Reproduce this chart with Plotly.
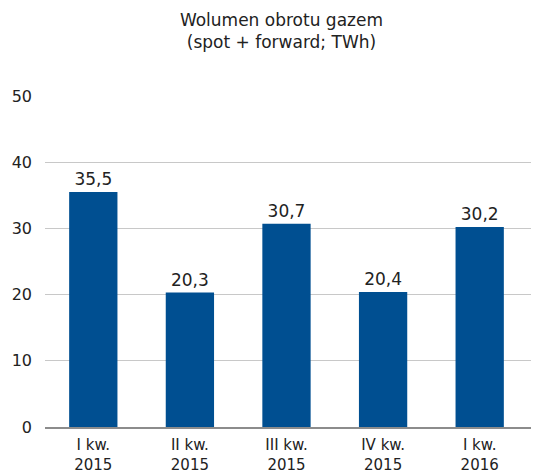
import plotly.graph_objects as go

categories = ["I kw.<br>2015", "II kw.<br>2015", "III kw.<br>2015", "IV kw.<br>2015", "I kw.<br>2016"]
volumes = [35.5, 20.3, 30.7, 20.4, 30.2]
y_ticks = [0, 10, 20, 30, 40, 50]

fig = go.Figure()

fig.add_trace(
    go.Bar(
        x=categories,
        y=volumes,
        marker=dict(color="#004f91", line=dict(width=0)),
        width=0.5,
        texttemplate="%{y:.1f}",
        textposition="outside",
        textfont=dict(size=17, color="#222222"),
        cliponaxis=False,
    )
)

# page body keeps its default 8px margin, so the figure is 8px smaller
fig.update_layout(
    width=531,
    height=464,
    margin=dict(l=37, r=0, t=88, b=45),
    paper_bgcolor="white",
    plot_bgcolor="white",
    separators=",.",
    font=dict(family="DejaVu Sans", size=15, color="#222222"),
    title=dict(
        text="Wolumen obrotu gazem<br>(spot + forward; TWh)",
        x=0.515,
        xanchor="center",
        y=0.961,
        yanchor="top",
        font=dict(size=17, color="#222222"),
    ),
    showlegend=False,
)

fig.update_yaxes(
    range=[0, 50],
    tickvals=y_ticks,
    showgrid=True,
    gridcolor="#c8c8c8",
    gridwidth=1,
    zeroline=False,
    showline=False,
    ticks="",
    ticklabelstandoff=12,
    tickfont=dict(size=16),
    automargin=False,
)

fig.update_xaxes(
    range=[-0.5, 4.614],
    showline=True,
    linecolor="#8c8c8c",
    linewidth=2,
    ticks="",
    ticklabelstandoff=3,
    tickfont=dict(size=15),
    automargin=False,
)

fig.write_html("out.html")
